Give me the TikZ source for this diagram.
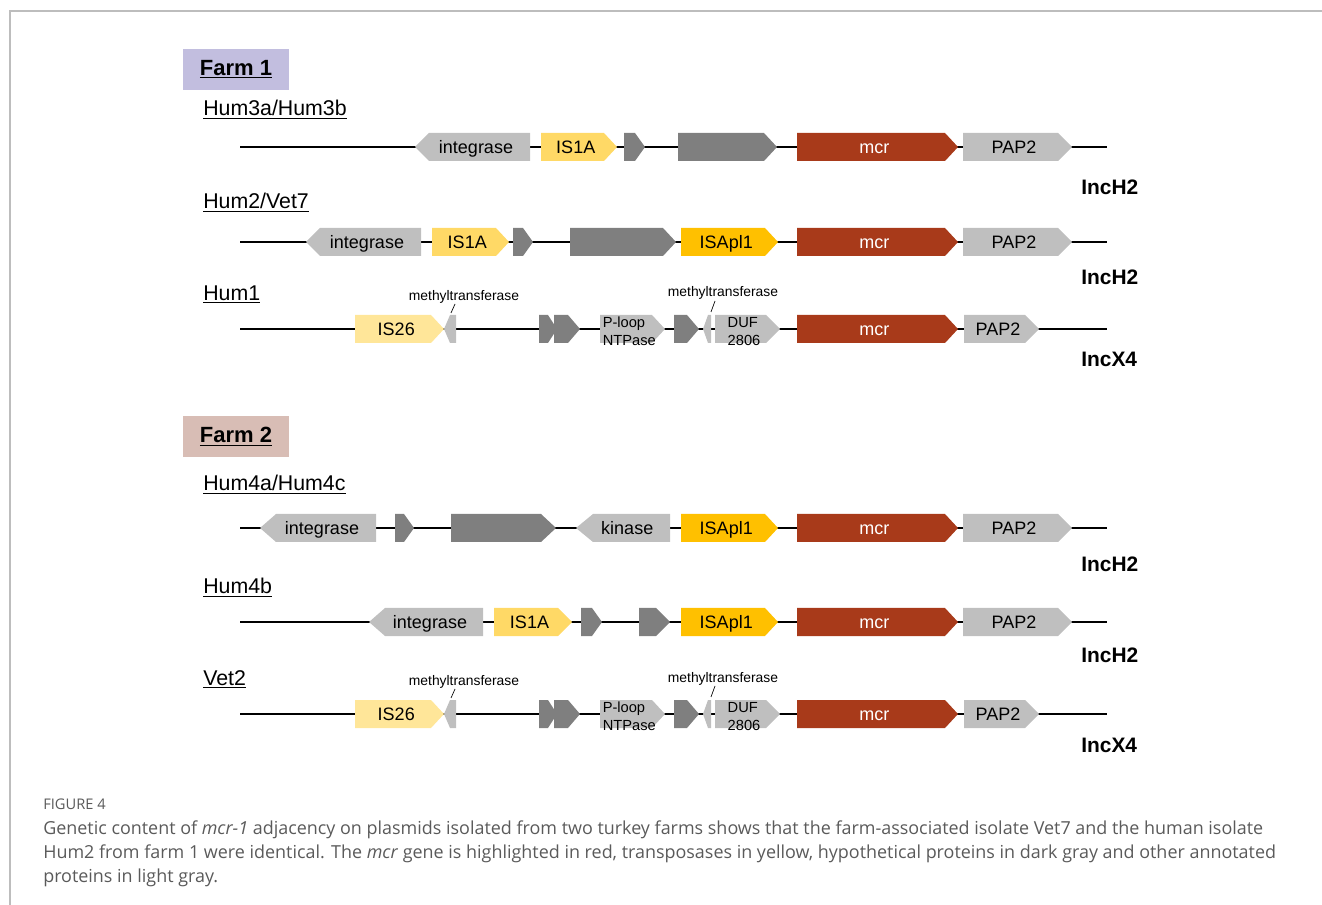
\documentclass[tikz,border=0pt]{standalone}
\usepackage{fontspec}
\setmainfont{Liberation Sans}
\newfontfamily\capfont{Open Sans}
\definecolor{lg}{HTML}{BFBFBF}
\definecolor{dg}{HTML}{7F7F7F}
\definecolor{mcrred}{HTML}{A83A1A}
\definecolor{isa}{HTML}{FFD966}
\definecolor{isb}{HTML}{FFE699}
\definecolor{isc}{HTML}{FFC000}
\definecolor{farmA}{HTML}{C2BEDF}
\definecolor{farmB}{HTML}{D8BDB5}
\definecolor{capgray}{HTML}{5A5A5A}
\definecolor{framegray}{HTML}{BDBDBD}
% forward gene: name, x1, x2(tip), y, fill, point length, node options, label
\newcommand\gfwd[8]{%
  \fill[#5] (#2,#4-14) -- (#3-#6,#4-14) -- (#3,#4) -- (#3-#6,#4+14) -- (#2,#4+14) -- cycle;
  \node[genelabel,#7] (#1) at ({(#2+#3)/2-#6/4},#4) {#8};}
% reverse gene: name, x1(tip), x2, y, fill, point length, node options, label
\newcommand\grev[8]{%
  \fill[#5] (#2,#4) -- (#2+#6,#4-14) -- (#3,#4-14) -- (#3,#4+14) -- (#2+#6,#4+14) -- cycle;
  \node[genelabel,#7] (#1) at ({(#2+#3)/2+#6/4},#4) {#8};}
\tikzset{
  genelabel/.style={inner sep=0pt, align=left, text height=0.716em, text depth=0pt, yshift=-1.4pt, font=\fontsize{13.5}{16}\selectfont},
  twoline/.style={text height={}, text depth={}, yshift=-0.5pt, font=\fontsize{11}{13.5}\selectfont},
  backbone/.style={line width=2.1pt, black},
  rowlabel/.style={anchor=west, inner sep=0pt, yshift=-1.2pt, font=\fontsize{16}{19}\selectfont},
  inclabel/.style={anchor=west, inner sep=0pt, font=\fontsize{15.7}{19}\selectfont\bfseries},
  farmbox/.style={minimum width=79.5pt, minimum height=31pt, inner sep=0pt, font=\fontsize{16.5}{19}\selectfont\bfseries},
  mtlabel/.style={inner sep=0pt, font=\fontsize{10.4}{12}\selectfont},
  tick/.style={line width=0.5pt, black},
  captext/.style={anchor=base west, inner sep=0pt, text=capgray, font=\capfont\fontsize{13.45}{16}\selectfont},
}
\begin{document}
\begin{tikzpicture}[x=0.75pt,y=-0.75pt]
\useasboundingbox (0,0) rectangle (1322,905);
% frame
\coordinate (fbl) at (10,905); \coordinate (ftl) at (10,11); \coordinate (ftr) at (1322,11);
\draw[framegray, line width=1.1pt] (fbl) -- (ftl) -- (ftr);

% ================= Farm 1 =================
\node[farmbox, fill=farmA] (farm1) at (236,69.5) {\raisebox{-1.2pt}{\underline{Farm 1}}};

% Row 1: Hum3a/Hum3b
\node[rowlabel] (lab1) at (203,108) {\underline{Hum3a/Hum3b}};
\coordinate (r1s) at (240,147); \coordinate (r1e) at (1107,147);
\draw[backbone] (r1s) -- (r1e);
\grev{r1int}{415}{530}{147}{lg}{14}{}{integrase}
\gfwd{r1is}{541}{617}{147}{isa}{13}{}{IS1A}
\gfwd{r1h1}{624}{645}{147}{dg}{10}{}{}
\gfwd{r1h2}{678}{777}{147}{dg}{13}{}{}
\gfwd{r1mcr}{797}{958}{147}{mcrred}{13}{text=white}{mcr}
\gfwd{r1pap}{963}{1072}{147}{lg}{14}{}{PAP2}
\node[inclabel] (inc1) at (1081,187) {IncH2};

% Row 2: Hum2/Vet7
\node[rowlabel] (lab2) at (203,201) {\underline{Hum2/Vet7}};
\coordinate (r2s) at (240,242); \coordinate (r2e) at (1107,242);
\draw[backbone] (r2s) -- (r2e);
\grev{r2int}{306}{421}{242}{lg}{14}{}{integrase}
\gfwd{r2is}{432}{509}{242}{isa}{13}{}{IS1A}
\gfwd{r2h1}{513}{533}{242}{dg}{10}{}{}
\gfwd{r2h2}{570}{676}{242}{dg}{13}{}{}
\gfwd{r2isapl}{681}{778}{242}{isc}{13}{}{ISApl1}
\gfwd{r2mcr}{797}{958}{242}{mcrred}{13}{text=white}{mcr}
\gfwd{r2pap}{963}{1072}{242}{lg}{14}{}{PAP2}
\node[inclabel] (inc2) at (1081,277) {IncH2};

% Row 3: Hum1
\node[rowlabel] (lab3) at (203,293) {\underline{Hum1}};
\coordinate (r3s) at (240,329); \coordinate (r3e) at (1107,329);
\draw[backbone] (r3s) -- (r3e);
\gfwd{r3is}{355}{444}{329}{isb}{13}{}{IS26}
\grev{r3mt1}{444}{456}{329}{lg}{6}{}{}
\gfwd{r3h1b}{554}{580}{329}{dg}{12}{}{}
\gfwd{r3h1a}{539}{557}{329}{dg}{9}{}{}
\gfwd{r3ploop}{600}{665}{329}{lg}{13}{twoline}{P-loop\\NTPase}
\gfwd{r3h2}{674}{699}{329}{dg}{12}{}{}
\grev{r3mt2}{703}{711}{329}{lg}{5}{}{}
\gfwd{r3duf}{715}{780}{329}{lg}{14}{twoline}{DUF\\2806}
\gfwd{r3mcr}{797}{958}{329}{mcrred}{13}{text=white}{mcr}
\gfwd{r3pap}{964}{1039}{329}{lg}{14}{}{PAP2}
\node[mtlabel] (mt3a) at (464,297) {methyltransferase};
\node[mtlabel] (mt3b) at (723,293) {methyltransferase};
\coordinate (t3a1) at (451,313); \coordinate (t3a2) at (455,304);
\coordinate (t3b1) at (711,312); \coordinate (t3b2) at (715,301);
\draw[tick] (t3a1) -- (t3a2);
\draw[tick] (t3b1) -- (t3b2);
\node[inclabel] (inc3) at (1081,359) {IncX4};

% ================= Farm 2 =================
\node[farmbox, fill=farmB] (farm2) at (236,436.5) {\raisebox{-1.2pt}{\underline{Farm 2}}};

% Row 4: Hum4a/Hum4c
\node[rowlabel] (lab4) at (203,483) {\underline{Hum4a/Hum4c}};
\coordinate (r4s) at (240,528); \coordinate (r4e) at (1107,528);
\draw[backbone] (r4s) -- (r4e);
\grev{r4int}{260}{376}{528}{lg}{16}{}{integrase}
\gfwd{r4h1}{395}{414}{528}{dg}{10}{}{}
\gfwd{r4h2}{451}{556}{528}{dg}{15}{}{}
\grev{r4kin}{576}{670}{528}{lg}{17}{}{kinase}
\gfwd{r4isapl}{681}{778}{528}{isc}{13}{}{ISApl1}
\gfwd{r4mcr}{797}{958}{528}{mcrred}{13}{text=white}{mcr}
\gfwd{r4pap}{963}{1072}{528}{lg}{14}{}{PAP2}
\node[inclabel] (inc4) at (1081,564) {IncH2};

% Row 5: Hum4b
\node[rowlabel] (lab5) at (203,586) {\underline{Hum4b}};
\coordinate (r5s) at (240,622); \coordinate (r5e) at (1107,622);
\draw[backbone] (r5s) -- (r5e);
\grev{r5int}{369}{483}{622}{lg}{16}{}{integrase}
\gfwd{r5is}{494}{572}{622}{isa}{14}{}{IS1A}
\gfwd{r5h1}{581}{602}{622}{dg}{10}{}{}
\gfwd{r5h2}{639}{670}{622}{dg}{14}{}{}
\gfwd{r5isapl}{681}{778}{622}{isc}{13}{}{ISApl1}
\gfwd{r5mcr}{797}{958}{622}{mcrred}{13}{text=white}{mcr}
\gfwd{r5pap}{963}{1072}{622}{lg}{14}{}{PAP2}
\node[inclabel] (inc5) at (1081,655) {IncH2};

% Row 6: Vet2
\node[rowlabel] (lab6) at (203,678) {\underline{Vet2}};
\coordinate (r6s) at (240,714); \coordinate (r6e) at (1107,714);
\draw[backbone] (r6s) -- (r6e);
\gfwd{r6is}{355}{444}{714}{isb}{13}{}{IS26}
\grev{r6mt1}{444}{456}{714}{lg}{6}{}{}
\gfwd{r6h1b}{554}{580}{714}{dg}{12}{}{}
\gfwd{r6h1a}{539}{557}{714}{dg}{9}{}{}
\gfwd{r6ploop}{600}{665}{714}{lg}{13}{twoline}{P-loop\\NTPase}
\gfwd{r6h2}{674}{699}{714}{dg}{12}{}{}
\grev{r6mt2}{703}{711}{714}{lg}{5}{}{}
\gfwd{r6duf}{715}{780}{714}{lg}{14}{twoline}{DUF\\2806}
\gfwd{r6mcr}{797}{958}{714}{mcrred}{13}{text=white}{mcr}
\gfwd{r6pap}{964}{1039}{714}{lg}{14}{}{PAP2}
\node[mtlabel] (mt6a) at (464,682) {methyltransferase};
\node[mtlabel] (mt6b) at (723,679) {methyltransferase};
\coordinate (t6a1) at (451,698); \coordinate (t6a2) at (455,689);
\coordinate (t6b1) at (711,697); \coordinate (t6b2) at (715,686);
\draw[tick] (t6a1) -- (t6a2);
\draw[tick] (t6b1) -- (t6b2);
\node[inclabel] (inc6) at (1081,745) {IncX4};

% ================= Caption =================
\node[captext, font=\capfont\fontsize{11}{13}\selectfont] (figno) at (43,809) {FIGURE 4};
\node[captext] (cap1) at (43,834) {Genetic content of \textit{mcr-1} adjacency on plasmids isolated from two turkey farms shows that the farm-associated isolate Vet7 and the human isolate};
\node[captext] (cap2) at (43,858) {Hum2 from farm 1 were identical. The \textit{mcr} gene is highlighted in red, transposases in yellow, hypothetical proteins in dark gray and other annotated};
\node[captext] (cap3) at (43,882) {proteins in light gray.};
\end{tikzpicture}
\end{document}
